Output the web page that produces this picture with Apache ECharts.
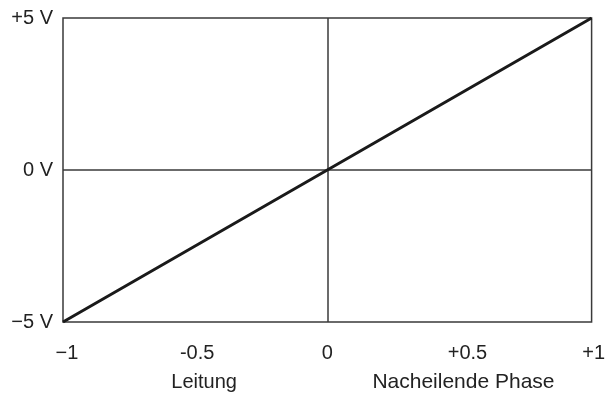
<!DOCTYPE html>
<html>
<head>
<meta charset="utf-8">
<script src="https://cdn.jsdelivr.net/npm/echarts@6/dist/echarts.min.js"></script>
<style>
  html, body { margin: 0; padding: 0; background: #fff; }
  #chart { width: 608px; height: 398px; }
</style>
</head>
<body>
<div id="chart"></div>
<script>
// Phase input (x) against output voltage (y)
const phaseValues = [-1, 0, 1];
const voltageValues = [-5, 0, 5];

// Tick labels
const xTickValues = [-1, -0.5, 0, 0.5, 1];
const xTickLabels = ['\u22121', '-0.5', '0', '+0.5', '+1'];
const yTickValues = [-5, 0, 5];
const yTickLabels = ['\u22125 V', '0 V', '+5 V'];

// Region captions under the x axis
const regionValues = [-0.5, 0.5];
const regionLabels = ['Leitung', 'Nacheilende Phase'];

const FONT = '"Liberation Sans", Arial, sans-serif';
const TEXT = '#222';
const FRAME = '#3a3a3a';

// small horizontal nudges (px) per x tick label
const xNudge = [4, 2, 0, 8, 2];
const regionNudge = [9, 4];
const regionSizes = [20, 21];

function richFor(nudges, prefix, sizes) {
  const r = {};
  nudges.forEach((n, i) => {
    r[prefix + i] = {
      fontFamily: FONT, fontSize: sizes ? sizes[i] : 20, color: TEXT,
      padding: [0, 0, 0, 2 * n]
    };
  });
  return r;
}

const chart = echarts.init(document.getElementById('chart'), null, { renderer: 'canvas' });

chart.setOption({
  animation: false,
  backgroundColor: '#fff',
  grid: {
    left: 63, right: 14, top: 18, bottom: 76,
    show: true, borderColor: FRAME, borderWidth: 1.5, backgroundColor: 'transparent'
  },
  xAxis: [
    {
      type: 'value', min: -1, max: 1, interval: 0.5, position: 'bottom',
      axisLine: { show: false }, axisTick: { show: false }, splitLine: { show: false },
      axisLabel: {
        margin: 21,
        formatter: v => {
          const i = xTickValues.findIndex(t => Math.abs(t - v) < 1e-9);
          return i < 0 ? '' : '{t' + i + '|' + xTickLabels[i] + '}';
        },
        rich: richFor(xNudge, 't')
      }
    },
    {
      type: 'value', min: -1, max: 1, interval: 0.5, position: 'bottom', offset: 29,
      axisLine: { show: false }, axisTick: { show: false }, splitLine: { show: false },
      axisLabel: {
        margin: 21, showMinLabel: true, showMaxLabel: true,
        formatter: v => {
          const i = regionValues.findIndex(t => Math.abs(t - v) < 1e-9);
          return i < 0 ? '' : '{r' + i + '|' + regionLabels[i] + '}';
        },
        rich: richFor(regionNudge, 'r', regionSizes)
      }
    }
  ],
  yAxis: {
    type: 'value', min: -5, max: 5, interval: 5,
    axisLine: { show: false }, axisTick: { show: false }, splitLine: { show: false },
    axisLabel: {
      margin: 10, fontFamily: FONT, fontSize: 20, color: TEXT,
      padding: [0, 0, 6, 0],
      formatter: v => {
        const i = yTickValues.findIndex(t => Math.abs(t - v) < 1e-9);
        return i < 0 ? '' : yTickLabels[i];
      }
    }
  },
  series: [{
    type: 'line',
    xAxisIndex: 0,
    data: phaseValues.map((x, i) => [x, voltageValues[i]]),
    showSymbol: false,
    lineStyle: { color: '#1a1a1a', width: 3 },
    z: 5,
    markLine: {
      silent: true,
      symbol: 'none',
      label: { show: false },
      lineStyle: { color: FRAME, width: 1.5, type: 'solid' },
      data: [{ xAxis: 0 }, { yAxis: 0 }],
      z: 3
    }
  }]
});
</script>
</body>
</html>
